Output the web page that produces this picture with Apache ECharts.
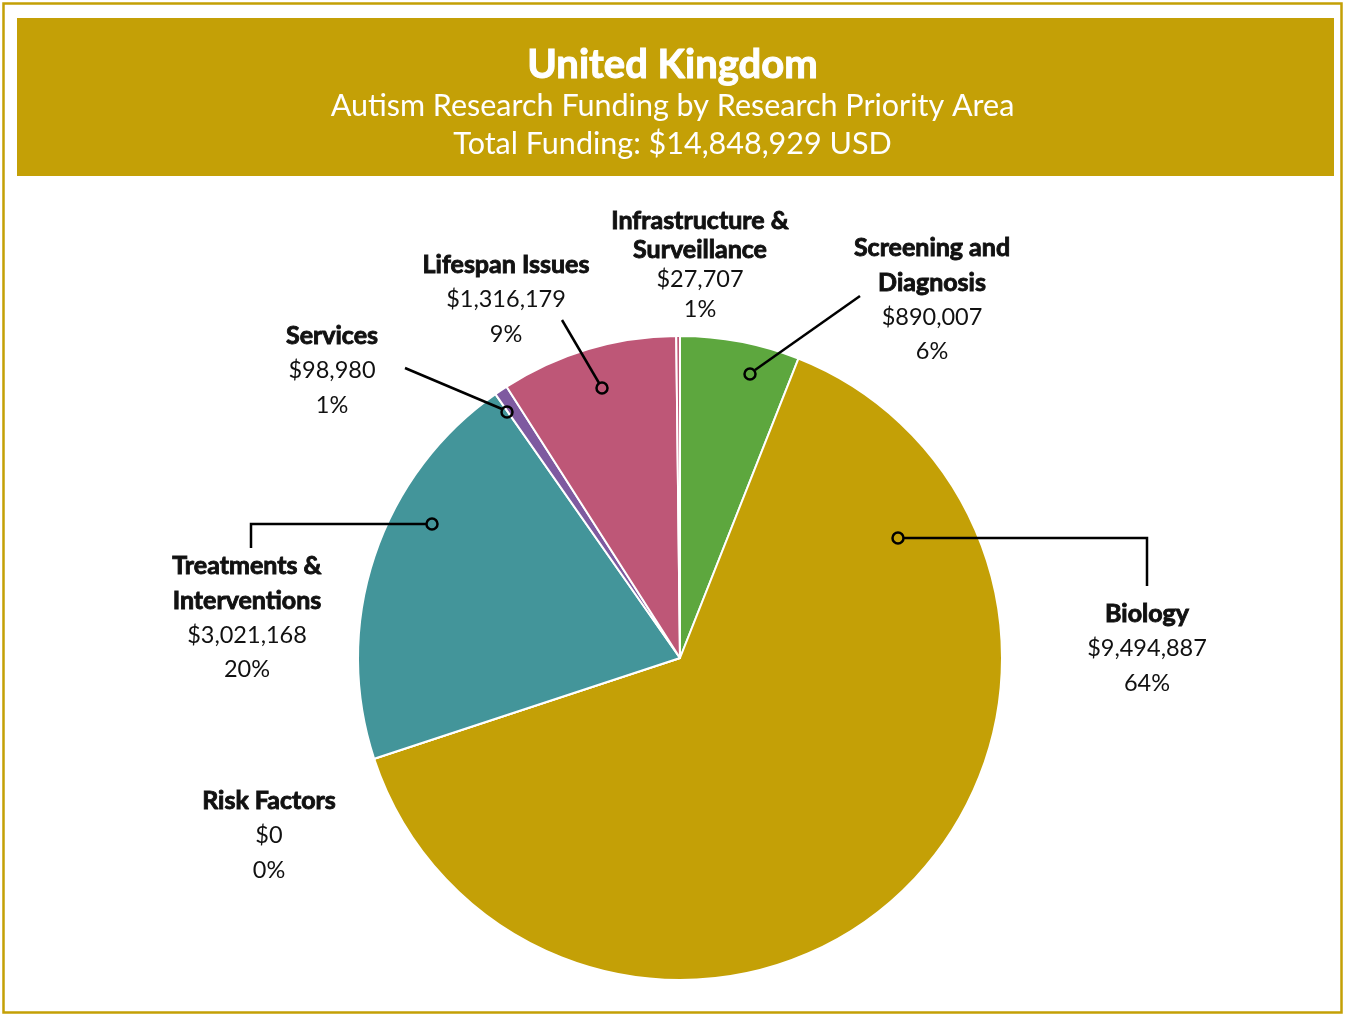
<!DOCTYPE html>
<html><head><meta charset="utf-8">
<script src="https://cdn.jsdelivr.net/npm/echarts@6/dist/echarts.min.js"></script>
<style>html,body{margin:0;padding:0;background:#fff}#c{width:1345px;height:1015px}</style>
</head><body><div id="c"></div>
<script>
const categories = ['Screening and Diagnosis','Biology','Risk Factors','Treatments & Interventions','Services','Lifespan Issues','Infrastructure & Surveillance'];
const labelNames = ['Screening and\nDiagnosis','Biology','Risk Factors','Treatments &\nInterventions','Services','Lifespan Issues','Infrastructure &\nSurveillance'];
const values = [890007, 9494887, 0, 3021168, 98980, 1316179, 27707];
const percentLabels = ['6%','64%','0%','20%','1%','9%','1%'];
const colors = ['#5DA73E','#C4A006','#8A8A8A','#43959A','#7E5AA0','#BE5777','#BE5777'];
const titleText = 'United Kingdom';
const subtitleText = 'Autism Research Funding by Research Priority Area\nTotal Funding: $14,848,929 USD';

const GOLD = '#C4A006';
const FONT = 'Lato, "Open Sans", sans-serif';
// label anchor: centre x, top y of first line
const labelPos = [[932,231],[1147,597],[269,784],[247,549],[332,319],[506,248],[700,206]];

const chart = echarts.init(document.getElementById('c'), null, {renderer:'canvas'});
const data = categories.map((c,i)=>({name:c, value:values[i], itemStyle:{color:colors[i]}}));

function fmtMoney(v){return '$'+v.toLocaleString('en-US');}

const nameStyle = {fontFamily:FONT,fontWeight:'bold',fontSize:25,color:'#111',textBorderColor:'#111',textBorderWidth:0.9,align:'center'};
const valStyle = {fontFamily:FONT,fontSize:23.5,color:'#111',align:'center'};

chart.setOption({
  animation:false,
  title:[
    {text:titleText,left:'center',top:40,textStyle:{color:'#fff',fontSize:40,fontWeight:'bold',fontFamily:FONT,textBorderColor:'#fff',textBorderWidth:1}},
    {text:subtitleText,left:'center',top:82,textStyle:{color:'#fff',fontSize:30.5,fontWeight:'normal',fontFamily:FONT,lineHeight:38}}
  ],
  graphic:[
    {type:'rect',z:-10,shape:{x:3.5,y:3.5,width:1338,height:1009},style:{fill:'#fff',stroke:GOLD,lineWidth:2.5}},
    {type:'rect',z:-5,shape:{x:17,y:18,width:1317,height:158},style:{fill:GOLD}},
    {type:'polyline',z:100,shape:{points:[[755,370],[860,296]]},style:{stroke:'#000',lineWidth:2.5,fill:null}},
    {type:'polyline',z:100,shape:{points:[[904,538],[1147,538],[1147,586]]},style:{stroke:'#000',lineWidth:2.5,fill:null}},
    {type:'polyline',z:100,shape:{points:[[426,524],[251,524],[251,548]]},style:{stroke:'#000',lineWidth:2.5,fill:null}},
    {type:'polyline',z:100,shape:{points:[[502,409],[405,368]]},style:{stroke:'#000',lineWidth:2.5,fill:null}},
    {type:'polyline',z:100,shape:{points:[[599,383],[562,320]]},style:{stroke:'#000',lineWidth:2.5,fill:null}},
    {type:'circle',z:100,shape:{cx:750,cy:374,r:5.5},style:{stroke:'#000',lineWidth:2.5,fill:null}},
    {type:'circle',z:100,shape:{cx:898,cy:538,r:5.5},style:{stroke:'#000',lineWidth:2.5,fill:null}},
    {type:'circle',z:100,shape:{cx:432,cy:524,r:5.5},style:{stroke:'#000',lineWidth:2.5,fill:null}},
    {type:'circle',z:100,shape:{cx:507,cy:412,r:5.5},style:{stroke:'#000',lineWidth:2.5,fill:null}},
    {type:'circle',z:100,shape:{cx:602,cy:388,r:5.5},style:{stroke:'#000',lineWidth:2.5,fill:null}}
  ],
  series:[{
    type:'pie',
    center:[680,658],
    radius:322,
    startAngle:90,
    clockwise:true,
    avoidLabelOverlap:false,
    stillShowZeroSum:true,
    silent:true,
    itemStyle:{borderColor:'#fff',borderWidth:2},
    label:{
      show:true,
      position:'outside',
      formatter:p=>{
        const i=p.dataIndex; const s=(i===6)?'2':'';
        return '{n'+s+'|'+labelNames[i].split('\n').join('}\n{n'+s+'|')+'}\n{v'+s+'|'+fmtMoney(p.value)+'}\n{v'+s+'|'+percentLabels[i]+'}';
      },
      rich:{
        n:Object.assign({lineHeight:34.5},nameStyle),
        v:Object.assign({lineHeight:34.5},valStyle),
        n2:Object.assign({lineHeight:29.5},nameStyle),
        v2:Object.assign({lineHeight:29.5},valStyle)
      },
      align:'center'
    },
    labelLine:{show:false},
    labelLayout:function(params){
      const i=params.dataIndex; const p=labelPos[i];
      return {x:p[0], y:p[1], align:'center', verticalAlign:'top', hideOverlap:false};
    },
    data:data
  }]
});
</script></body></html>
